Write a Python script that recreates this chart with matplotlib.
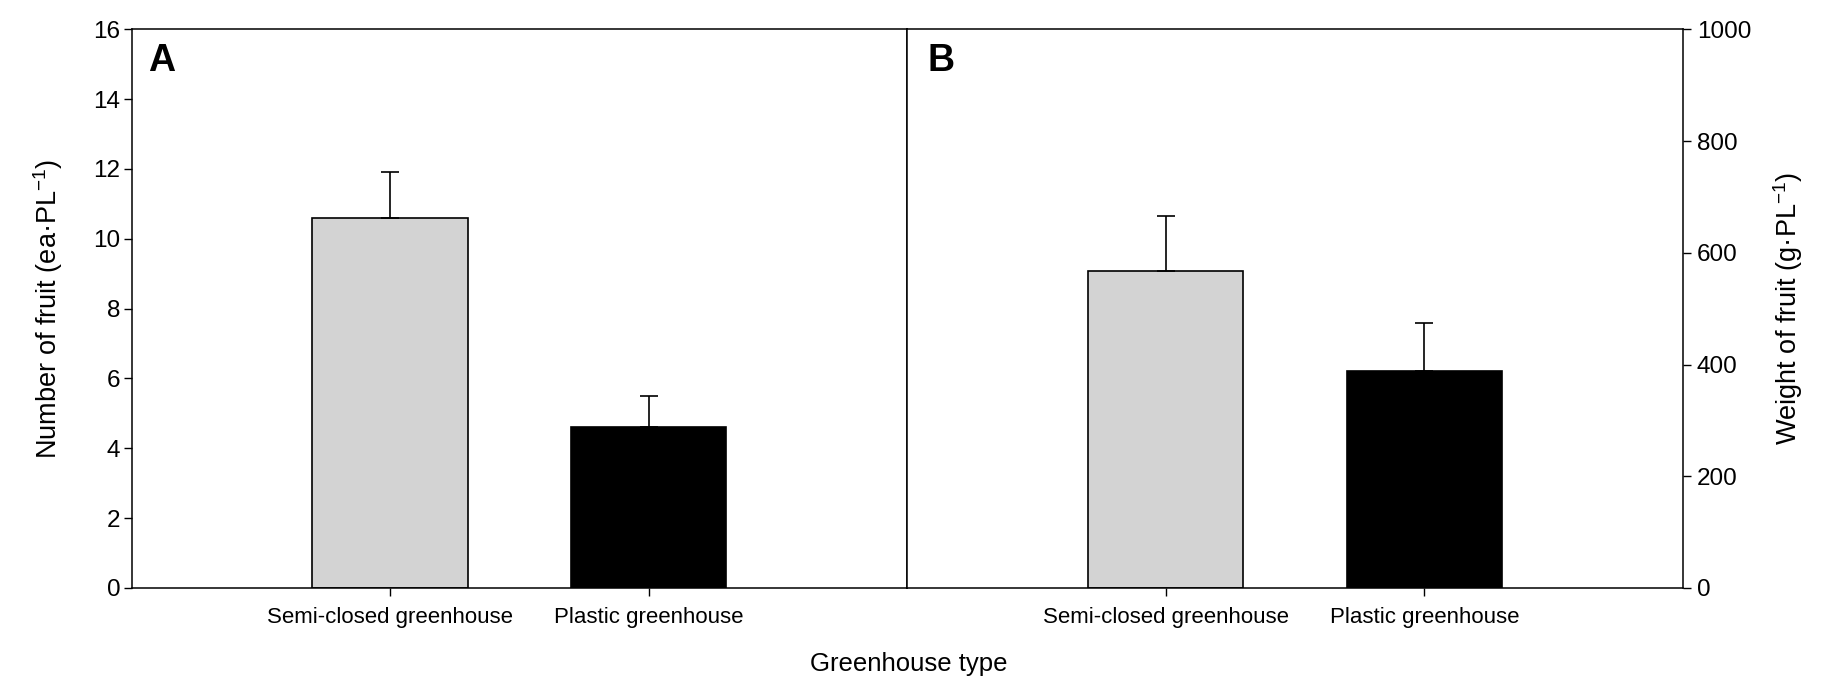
import matplotlib
matplotlib.use("Agg")
import matplotlib.pyplot as plt

plt.rcParams['font.family'] = ['Liberation Sans', 'DejaVu Sans']
plt.rcParams['mathtext.fontset'] = 'custom'
plt.rcParams['mathtext.rm'] = 'Liberation Sans'
plt.rcParams['mathtext.it'] = 'Liberation Sans:italic'

categories = ["Semi-closed greenhouse", "Plastic greenhouse"]
fruit_number = [10.6, 4.62]
fruit_number_err = [1.32, 0.88]
fruit_weight = [568, 388]
fruit_weight_err = [98, 87]
bar_colors = ["#d3d3d3", "#000000"]
left_ticks = [0, 2, 4, 6, 8, 10, 12, 14, 16]
right_ticks = [0, 200, 400, 600, 800, 1000]

W, H = 1825, 700
fig = plt.figure(figsize=(W / 100, H / 100), dpi=100)
left, mid, right = 131.5 / W, 907 / W, 1683 / W
bottom, top = 1 - 588 / H, 1 - 29.3 / H
axA = fig.add_axes([left, bottom, mid - left, top - bottom])
axB = fig.add_axes([mid, bottom, right - mid, top - bottom])

xpos = [1, 2]
for ax, vals, errs, ylim, yt, letter in [
    (axA, fruit_number, fruit_number_err, 16, left_ticks, "A"),
    (axB, fruit_weight, fruit_weight_err, 1000, right_ticks, "B"),
]:
    ax.bar(xpos, vals, width=0.6, color=bar_colors, edgecolor="black",
           linewidth=1.2, zorder=2)
    ax.errorbar(xpos, vals, yerr=[[0, 0], errs], fmt="none", ecolor="black",
                elinewidth=1.2, capsize=6.5, capthick=1.2, zorder=3)
    ax.set_xlim(0, 3)
    ax.set_ylim(0, ylim)
    ax.set_yticks(yt)
    ax.set_xticks(xpos)
    ax.set_xticklabels(categories, fontsize=16)
    ax.tick_params(axis="x", length=6, width=1, pad=8)
    ax.tick_params(axis="y", length=6, width=1, labelsize=17.5, pad=2)
    for s in ax.spines.values():
        s.set_linewidth(1.1)
    ax.text(0.026 if letter == "B" else 0.021, 0.975, letter,
            transform=ax.transAxes, fontsize=27, fontweight="bold",
            ha="left", va="top")

axB.yaxis.tick_right()
axB.yaxis.set_label_position("right")
axB.tick_params(axis="y", pad=4)

axA.set_ylabel(r"Number of fruit (ea·PL$^{\mathregular{-1}}$)", fontsize=19.5, labelpad=20)
axB.set_ylabel(r"Weight of fruit (g·PL$^{\mathregular{-1}}$)", fontsize=19.5, labelpad=14)

fig.text(909 / W, 1 - 664 / H, "Greenhouse type", fontsize=18.5,
         ha="center", va="center")

fig.savefig("out.png", dpi=100)
